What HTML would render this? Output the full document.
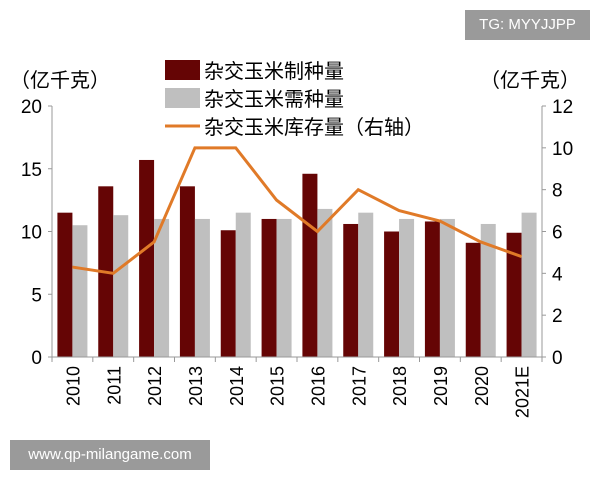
<!DOCTYPE html>
<html><head><meta charset="utf-8"><style>
body{margin:0;background:#fff;width:600px;height:480px;overflow:hidden;position:relative;font-family:"Liberation Sans","Noto Sans CJK SC",sans-serif}
</style></head><body>
<svg id="c" width="600" height="480" style="position:absolute;left:0;top:0"></svg>
<div style="position:absolute;left:465px;top:10px;width:125px;height:30px;background:#9a9a9a;color:#fff;font-size:15px;line-height:30px;text-align:center">TG: MYYJJPP</div>
<div style="position:absolute;left:10px;top:440px;width:200px;height:30px;background:#9a9a9a;color:#fff;font-size:15px;line-height:30px;text-align:center">www.qp-milangame.com</div>
<script>
const categories=["2010","2011","2012","2013","2014","2015","2016","2017","2018","2019","2020","2021E"];
const production=[11.5,13.6,15.7,13.6,10.1,11.0,14.6,10.6,10.0,10.8,9.1,9.9];
const demand=[10.5,11.3,11.0,11.0,11.5,11.0,11.8,11.5,11.0,11.0,10.6,11.5];
const inventory=[4.3,4.0,5.5,10,10,7.5,6.0,8.0,7.0,6.5,5.5,4.8];
const leftTicks=[0,5,10,15,20];
const rightTicks=[0,2,4,6,8,10,12];
const NS="http://www.w3.org/2000/svg";
const svg=document.getElementById('c');
const x0=52,x1=542,y0=357,y1=106;
const step=(x1-x0)/categories.length;
const yL=v=>y0-(v/20)*(y0-y1);
const yR=v=>y0-(v/12)*(y0-y1);
const cx=i=>x0+step*(i+0.5);
function el(t,a,txt){const e=document.createElementNS(NS,t);for(const k in a)e.setAttribute(k,a[k]);if(txt!=null)e.textContent=txt;svg.appendChild(e);return e;}
categories.forEach((c,i)=>{
 let b=el('rect',{x:cx(i)-15,y:yL(production[i]),width:15,height:y0-yL(production[i]),fill:'#650505'});
 
 
 let g=el('rect',{x:cx(i),y:yL(demand[i]),width:15,height:y0-yL(demand[i]),fill:'#bfbfbf'});
 
 
 let t=el('text',{x:0,y:0,'font-size':18,fill:'#000','text-anchor':'end',transform:`translate(${cx(i)+7},${y0+9}) rotate(-90)`},c);
 
 
});
let pts=inventory.map((v,i)=>cx(i)+','+yR(v)).join(' ');
let pl=el('polyline',{points:pts,fill:'none',stroke:'#e07a28','stroke-width':3});


let ax=el('path',{d:`M${x0},${y1}V${y0}H${x1}V${y1}`,fill:'none',stroke:'#999','stroke-width':1});


for(let i=0;i<=categories.length;i++){el('line',{x1:x0+step*i,x2:x0+step*i,y1:y0,y2:y0+5,stroke:'#999'});}
leftTicks.forEach(v=>{el('line',{x1:x0-4,x2:x0,y1:yL(v),y2:yL(v),stroke:'#999'});
 let t=el('text',{x:x0-10,y:yL(v)+7,'font-size':19,'text-anchor':'end'},v);
 
 });
rightTicks.forEach(v=>{el('line',{x1:x1,x2:x1+4,y1:yR(v),y2:yR(v),stroke:'#999'});
 let t=el('text',{x:x1+10,y:yR(v)+7,'font-size':19},v);
 
 });
let lt=el('text',{x:10,y:87,'font-size':20},'（亿千克）');
let rt=el('text',{x:480,y:87,'font-size':20},'（亿千克）');
const lg=[['rect','#650505','杂交玉米制种量',70],['rect','#bfbfbf','杂交玉米需种量',98],['line','#e07a28','杂交玉米库存量（右轴）',126]];
lg.forEach(([k,col,txt,y])=>{
 if(k==='rect')el('rect',{x:165,y:y-10,width:35,height:20,fill:col});
 else el('line',{x1:165,x2:200,y1:y,y2:y,stroke:col,'stroke-width':3});
 let t=el('text',{x:204,y:y+8,'font-size':20},txt);
 
 
});
</script>
</body></html>
